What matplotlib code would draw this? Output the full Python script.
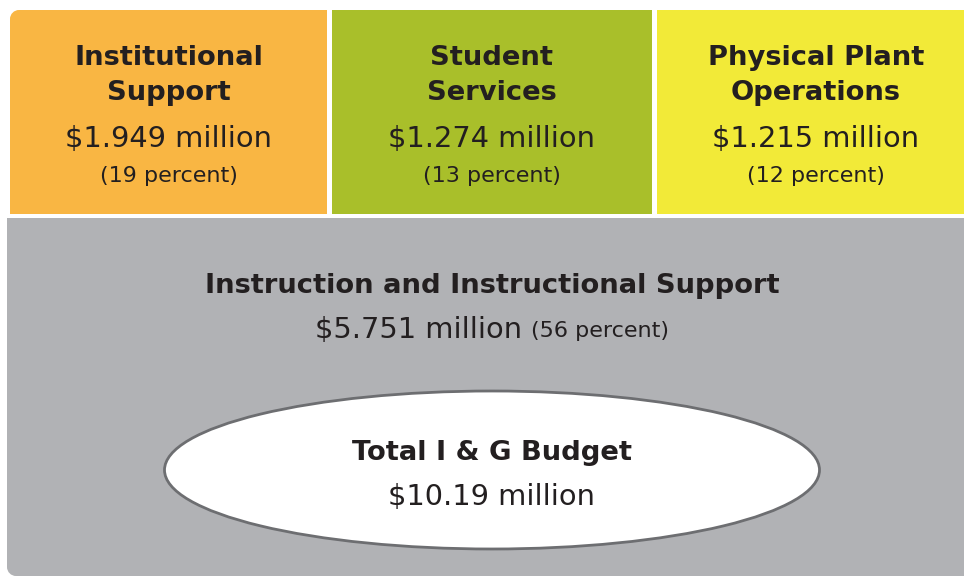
import matplotlib
matplotlib.use("Agg")
import matplotlib.pyplot as plt
from matplotlib.path import Path
from matplotlib.patches import PathPatch, Ellipse

# Budget breakdown
categories = ["Institutional\nSupport", "Student\nServices", "Physical Plant\nOperations"]
amounts = ["$1.949 million", "$1.274 million", "$1.215 million"]
percents = ["(19 percent)", "(13 percent)", "(12 percent)"]
main_category = "Instruction and Instructional Support"
main_amount = "$5.751 million"
main_percent = "(56 percent)"
total_label = "Total I & G Budget"
total_amount = "$10.19 million"

box_colors = ["#F9B643", "#A9BF2A", "#F2EA38"]
gray = "#B1B2B5"
text_color = "#231F20"
title_font = dict(family="DejaVu Sans", weight="bold", color=text_color)
body_font = dict(family="DejaVu Sans", weight="normal", color=text_color)

W, H = 964, 576
fig = plt.figure(figsize=(W / 100, H / 100), dpi=100)
ax = fig.add_axes([0, 0, 1, 1])
ax.set_xlim(0, W)
ax.set_ylim(H, 0)
ax.axis("off")


def rounded_rect(x0, y0, x1, y1, r, corners):
    """Rectangle path (y down) with rounding on chosen corners: tl, tr, br, bl."""
    k = 0.5523 * r
    verts, codes = [], []

    def move(p):
        verts.append(p); codes.append(Path.MOVETO)

    def line(p):
        verts.append(p); codes.append(Path.LINETO)

    def curve(c1, c2, p):
        verts.extend([c1, c2, p]); codes.extend([Path.CURVE4] * 3)

    rtl = r if "tl" in corners else 0
    rtr = r if "tr" in corners else 0
    rbr = r if "br" in corners else 0
    rbl = r if "bl" in corners else 0
    move((x0 + rtl, y0))
    line((x1 - rtr, y0))
    if rtr:
        curve((x1 - rtr + k, y0), (x1, y0 + rtr - k), (x1, y0 + rtr))
    line((x1, y1 - rbr))
    if rbr:
        curve((x1, y1 - rbr + k), (x1 - rbr + k, y1), (x1 - rbr, y1))
    line((x0 + rbl, y1))
    if rbl:
        curve((x0 + rbl - k, y1), (x0, y1 - rbl + k), (x0, y1 - rbl))
    line((x0, y0 + rtl))
    if rtl:
        curve((x0, y0 + rtl - k), (x0 + rtl - k, y0), (x0 + rtl, y0))
    verts.append((x0 + rtl, y0)); codes.append(Path.CLOSEPOLY)
    return Path(verts, codes)


TITLE_SIZE = 19.7
AMOUNT_SIZE = 20.8
PCT_SIZE = 16

# top row of three category boxes
lefts = [10, 332, 657]
rights = [327, 652, 964]
for i, (cat, amt, pct) in enumerate(zip(categories, amounts, percents)):
    x0, x1 = lefts[i], rights[i]
    corners = ("tl",) if i == 0 else ()
    ax.add_patch(PathPatch(rounded_rect(x0, 10, x1, 214, 9, corners),
                           facecolor=box_colors[i], edgecolor="none"))
    cx = (x0 + x1) / 2 if i < 2 else 816
    top, bottom = cat.split("\n")
    ax.text(cx, 65, top, ha="center", va="baseline", fontsize=TITLE_SIZE, **title_font)
    ax.text(cx, 100, bottom, ha="center", va="baseline", fontsize=TITLE_SIZE, **title_font)
    ax.text(cx, 147, amt, ha="center", va="baseline", fontsize=AMOUNT_SIZE, **body_font)
    ax.text(cx, 182, pct, ha="center", va="baseline", fontsize=PCT_SIZE, **body_font)

# large gray box
ax.add_patch(PathPatch(rounded_rect(7, 218, 964, 576, 9, ("bl",)),
                       facecolor=gray, edgecolor="none"))
ax.text(492, 293, main_category, ha="center", va="baseline", fontsize=TITLE_SIZE,
        **title_font)

# amount + percent on one line, centred as a pair
t1 = ax.text(0, 338, main_amount + " ", ha="left", va="baseline", fontsize=AMOUNT_SIZE,
             **body_font)
t2 = ax.text(0, 337, main_percent, ha="left", va="baseline", fontsize=PCT_SIZE,
             **body_font)
fig.canvas.draw()
r = fig.canvas.get_renderer()
inv = ax.transData.inverted()
b1 = t1.get_window_extent(r)
b2 = t2.get_window_extent(r)
w1 = inv.transform((b1.x1, 0))[0] - inv.transform((b1.x0, 0))[0]
w2 = inv.transform((b2.x1, 0))[0] - inv.transform((b2.x0, 0))[0]
start = 492 - (w1 + w2) / 2
t1.set_x(start)
t2.set_x(start + w1)

# total budget ellipse
ax.add_patch(Ellipse((492, 470), 655, 158, facecolor="white",
                     edgecolor="#6D6E71", linewidth=2))
ax.text(492, 460, total_label, ha="center", va="baseline", fontsize=TITLE_SIZE,
        **title_font)
ax.text(492, 505, total_amount, ha="center", va="baseline", fontsize=AMOUNT_SIZE,
        **body_font)

fig.savefig("out.png", dpi=100, facecolor="white")
